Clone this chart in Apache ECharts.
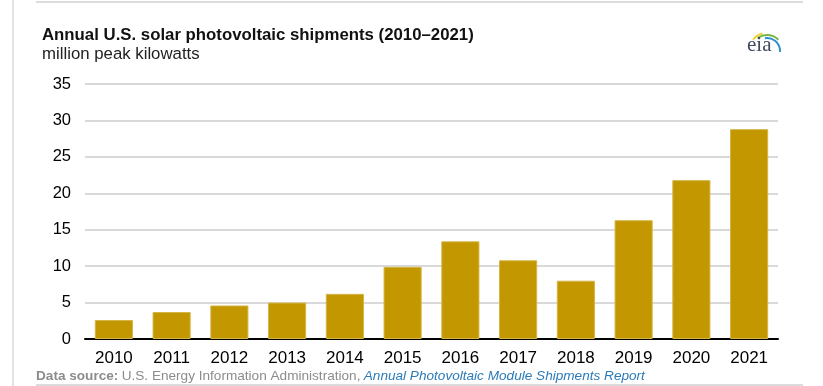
<!DOCTYPE html>
<html><head><meta charset="utf-8">
<script src="https://cdn.jsdelivr.net/npm/echarts@6/dist/echarts.min.js"></script>
<style>html,body{margin:0;padding:0;background:#fff}#c{width:823px;height:386px}</style>
</head><body><div id="c"></div>
<script>
const years = ['2010','2011','2012','2013','2014','2015','2016','2017','2018','2019','2020','2021'];
const shipments = [2.6, 3.7, 4.6, 5.0, 6.2, 9.9, 13.4, 10.8, 8.0, 16.3, 21.8, 28.8];
const yTicks = [0, 5, 10, 15, 20, 25, 30, 35];

const chart = echarts.init(document.getElementById('c'), null, {renderer: 'canvas'});
const font = 'Liberation Sans, Arial, sans-serif';
chart.setOption({
  animation: false,
  backgroundColor: '#fff',
  grid: {left: 85, right: 45, top: 84, bottom: 47},
  xAxis: {
    type: 'category', data: years,
    axisLine: {show: true, lineStyle: {color: '#000', width: 2}},
    axisTick: {show: false},
    axisLabel: {color: '#000', fontSize: 17, fontFamily: font, margin: 11}
  },
  yAxis: {
    type: 'value', min: yTicks[0], max: yTicks[yTicks.length-1], interval: 5,
    axisLine: {show: false}, axisTick: {show: false},
    splitLine: {lineStyle: {color: '#d9d9d9', width: 2}},
    axisLabel: {color: '#000', fontSize: 16.5, fontFamily: font, margin: 14}
  },
  series: [{
    type: 'bar', data: shipments, barWidth: '66%',
    itemStyle: {color: '#c29700', borderColor: '#d4b444', borderWidth: 1}
  }],
  graphic: [
    {type: 'line', shape: {x1: 13, y1: 0, x2: 13, y2: 386}, style: {stroke: '#e3e3e3', lineWidth: 2}},
    {type: 'line', shape: {x1: 36, y1: 2, x2: 803, y2: 2}, style: {stroke: '#dcdcdc', lineWidth: 2}},
    {type: 'line', shape: {x1: 36, y1: 385, x2: 803, y2: 385}, style: {stroke: '#dcdcdc', lineWidth: 2}},
    {type: 'text', left: 42, top: 27, style: {text: 'Annual U.S. solar photovoltaic shipments (2010–2021)', fill: '#111', font: 'bold 16.8px ' + font}},
    {type: 'text', left: 42, top: 46, style: {text: 'million peak kilowatts', fill: '#222', font: '16.8px ' + font}},
    {type: 'text', left: 36, top: 369, style: {
      rich: {
        b: {fontWeight: 'bold', fill: '#8c8c8c', fontSize: 13.6, fontFamily: font},
        n: {fill: '#8c8c8c', fontSize: 13.6, fontFamily: font},
        i: {fill: '#2b7bb9', fontSize: 13.6, fontStyle: 'italic', fontFamily: font}
      },
      text: '{b|Data source:} {n|U.S. Energy Information Administration,} {i|Annual Photovoltaic Module Shipments Report}'
    }},
    {type: 'arc', shape: {cx: 767, cy: 51, r: 18, startAngle: Math.PI*1.22, endAngle: Math.PI*1.42}, style: {stroke: '#f2d43a', lineWidth: 2, fill: null}},
    {type: 'arc', shape: {cx: 767, cy: 51, r: 16, startAngle: Math.PI*1.3, endAngle: Math.PI*1.75}, style: {stroke: '#7ab648', lineWidth: 2, fill: null}},
    {type: 'arc', shape: {cx: 767, cy: 51, r: 13, startAngle: Math.PI*1.45, endAngle: Math.PI*2.02}, style: {stroke: '#2a8fcf', lineWidth: 2, fill: null}},
    {type: 'text', left: 747, top: 35, style: {text: 'eia', fill: '#3d4b5c', font: '21px "Liberation Serif", "DejaVu Serif", serif'}}
  ]
});
</script></body></html>
